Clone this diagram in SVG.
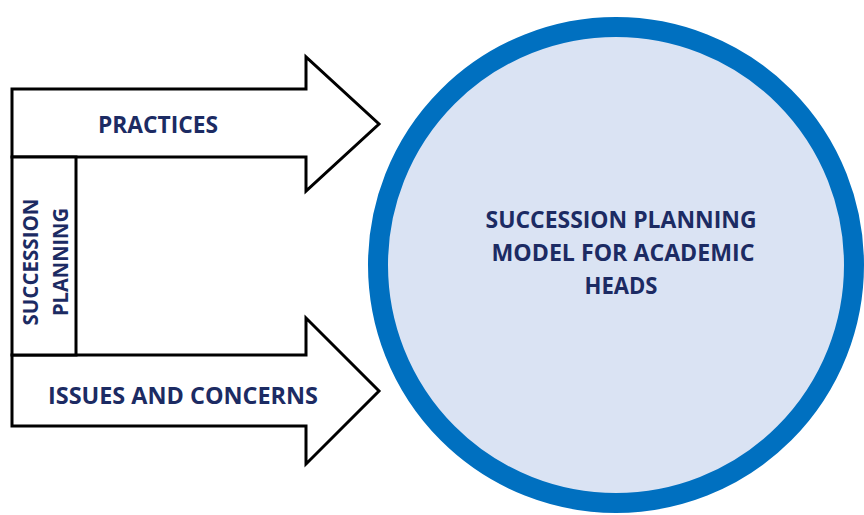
<svg xmlns="http://www.w3.org/2000/svg" width="864" height="515" viewBox="0 0 864 515">
  <style>
    .shape { fill: #ffffff; stroke: #000000; stroke-width: 3; stroke-linejoin: miter; }
    .lbl { font-family: "Open Sans", "Liberation Sans", sans-serif; font-weight: bold; fill: #1c2b63; text-anchor: middle; }
  </style>
  <rect x="0" y="0" width="864" height="515" fill="#ffffff"/>
  <g id="connectors">
    <g id="practices">
      <polygon class="shape" points="12,89 306,89 306,57 379,124 306,191 306,157 12,157"/>
      <text class="lbl" x="158" y="133" font-size="24" textLength="120" lengthAdjust="spacingAndGlyphs">PRACTICES</text>
    </g>
    <g id="issues">
      <polygon class="shape" points="12,355 306,355 306,318 379,391 306,464 306,426 12,426"/>
      <text class="lbl" x="183" y="404" font-size="24" textLength="270" lengthAdjust="spacingAndGlyphs">ISSUES AND CONCERNS</text>
    </g>
  </g>
  <g id="succession-planning">
    <rect class="shape" x="12" y="157" width="64" height="198"/>
    <text class="lbl" transform="translate(38,262) rotate(-90)" font-size="21" textLength="127" lengthAdjust="spacingAndGlyphs">SUCCESSION</text>
    <text class="lbl" transform="translate(68,262) rotate(-90)" font-size="21" textLength="108" lengthAdjust="spacingAndGlyphs">PLANNING</text>
  </g>
  <g id="model">
    <circle cx="616" cy="265" r="238" fill="#dae3f3" stroke="#0070c0" stroke-width="20"/>
    <text class="lbl" x="621" y="228" font-size="24" textLength="271" lengthAdjust="spacingAndGlyphs">SUCCESSION PLANNING</text>
    <text class="lbl" x="623" y="261" font-size="24" textLength="263" lengthAdjust="spacingAndGlyphs">MODEL FOR ACADEMIC</text>
    <text class="lbl" x="621" y="294" font-size="24" textLength="73" lengthAdjust="spacingAndGlyphs">HEADS</text>
  </g>
</svg>
